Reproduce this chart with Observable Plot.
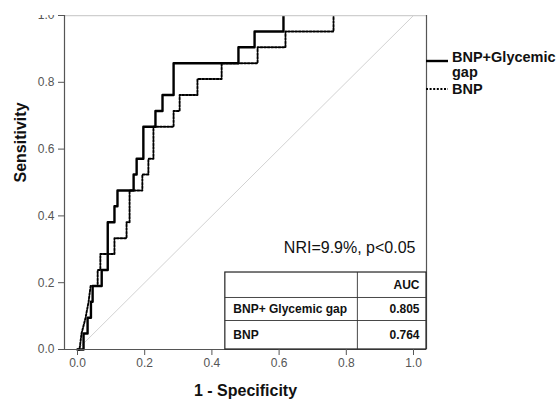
<!DOCTYPE html>
<html><head><meta charset="utf-8">
<script src="https://cdn.jsdelivr.net/npm/d3@7"></script>
<script src="https://cdn.jsdelivr.net/npm/@observablehq/plot@0.6"></script>
<style>
body{margin:0;background:#fff;}
#wrap{position:relative;width:556px;height:400px;overflow:hidden;background:#fff;}
#chart{position:absolute;left:0;top:15px;}
#chart svg{overflow:hidden;display:block;}
#legend{position:absolute;left:426px;top:0;}
#legend text{font-family:"Liberation Sans",Arial,sans-serif;font-weight:bold;font-size:14.5px;fill:#111;}
</style></head><body>
<div id="wrap"><div id="chart"></div><div id="legend"></div></div>
<script>
// ROC curve vertices (1 - specificity, sensitivity)
const comboFpr = [0, 0.018, 0.018, 0.030, 0.030, 0.040, 0.040, 0.045, 0.045, 0.072, 0.072, 0.090, 0.090, 0.110, 0.110, 0.119, 0.119, 0.167, 0.167, 0.176, 0.176, 0.196, 0.196, 0.232, 0.232, 0.253, 0.253, 0.286, 0.286, 0.479, 0.479, 0.527, 0.527, 0.613, 0.613];
const comboTpr = [0, 0, 0.048, 0.048, 0.095, 0.095, 0.143, 0.143, 0.190, 0.190, 0.238, 0.238, 0.381, 0.381, 0.429, 0.429, 0.476, 0.476, 0.524, 0.524, 0.571, 0.571, 0.667, 0.667, 0.714, 0.714, 0.762, 0.762, 0.857, 0.857, 0.905, 0.905, 0.952, 0.952, 1.0];
const bnpFpr = [0, 0.006, 0.012, 0.024, 0.033, 0.039, 0.060, 0.060, 0.068, 0.068, 0.110, 0.110, 0.146, 0.146, 0.155, 0.155, 0.193, 0.193, 0.211, 0.211, 0.226, 0.226, 0.286, 0.286, 0.304, 0.304, 0.357, 0.357, 0.429, 0.429, 0.536, 0.536, 0.619, 0.619, 0.762, 0.762];
const bnpTpr = [0, 0, 0.048, 0.095, 0.143, 0.190, 0.190, 0.238, 0.238, 0.286, 0.286, 0.333, 0.333, 0.381, 0.381, 0.476, 0.476, 0.524, 0.524, 0.571, 0.571, 0.667, 0.667, 0.714, 0.714, 0.762, 0.762, 0.810, 0.810, 0.857, 0.857, 0.905, 0.905, 0.952, 0.952, 1.0];
const seriesNames = ["BNP+Glycemic gap", "BNP"];
const tableHeader = "AUC";
const tableLabels = ["BNP+ Glycemic gap", "BNP"];
const aucValues = [0.805, 0.764];
const xTicks = [0, 0.2, 0.4, 0.6, 0.8, 1.0];
const yTicks = [0, 0.2, 0.4, 0.6, 0.8, 1.0];
const annotation = "NRI=9.9%, p<0.05";
const xTitle = "1 - Specificity";
const yTitle = "Sensitivity";

const combo = comboFpr.map((x, i) => ({x, y: comboTpr[i]}));
const bnp = bnpFpr.map((x, i) => ({x, y: bnpTpr[i]}));

const xMin = -0.0387, xMax = 1.0387;
// table layout (in chart units)
const tX1 = 0.44, tXdiv = 0.833, tYtop = 0.2305, tRow1 = 0.1557, tRow2 = 0.0868;
const rowCenters = [(tRow1 + tYtop) / 2, (tRow2 + tRow1) / 2, tRow2 / 2];
const tableRows = [{label: "", value: tableHeader}].concat(
  tableLabels.map((label, i) => ({label, value: d3.format(".3f")(aucValues[i])})));

const font = "'Liberation Sans', Arial, sans-serif";
const chart = Plot.plot({
  width: 556, height: 385,
  marginLeft: 64, marginRight: 130, marginTop: 0, marginBottom: 51,
  style: {fontFamily: font, overflow: "hidden", background: "white"},
  x: {domain: [xMin, xMax]},
  y: {domain: [0, 1]},
  marks: [
    Plot.line([{x: 0, y: 0}, {x: 1, y: 1}], {x: "x", y: "y", stroke: "#d2d2d2", strokeWidth: 1}),
    Plot.line(bnp, {x: "x", y: "y", stroke: "#000", strokeWidth: 1.9, strokeDasharray: "2,1.6"}),
    Plot.line(combo, {x: "x", y: "y", stroke: "#000", strokeWidth: 2.4}),
    // frame
    Plot.ruleY([1], {stroke: "#cfcfcf", strokeWidth: 1.5}),
    Plot.ruleX([xMin, xMax], {stroke: "#555", strokeWidth: 1.2}),
    Plot.ruleY([0], {stroke: "#555", strokeWidth: 1.2}),
    // AUC table
    Plot.rect([tableRows], {x1: () => tX1, x2: () => xMax, y1: () => 0, y2: () => tYtop, fill: "white", stroke: "#222", strokeWidth: 1.2}),
    Plot.ruleY([tRow1, tRow2], {x1: tX1, x2: xMax, stroke: "#333", strokeWidth: 0.9}),
    Plot.ruleX([tXdiv], {y1: 0, y2: tYtop, stroke: "#333", strokeWidth: 0.9}),
    Plot.text(tableRows, {x: () => tX1, dx: 8, y: (d, i) => rowCenters[i], text: "label", textAnchor: "start", fontSize: 12, fontWeight: "bold", fill: "#111"}),
    Plot.text(tableRows, {x: () => xMax, dx: -7, y: (d, i) => rowCenters[i], text: "value", textAnchor: "end", fontSize: 12, fontWeight: "bold", fill: "#111"}),
    // annotation
    Plot.text([annotation], {x: () => xMax, dx: -11, y: () => 0.305, text: d => d, textAnchor: "end", fontSize: 16, fill: "#111"}),
    // axes
    Plot.axisX(xTicks, {tickFormat: d3.format(".1f"), tickSize: 6, tickPadding: 3, fontSize: 12, color: "#555", label: null}),
    Plot.axisY(yTicks, {tickFormat: d3.format(".1f"), tickSize: 6, tickPadding: 4, fontSize: 12, color: "#555", label: null}),
    Plot.text([xTitle], {frameAnchor: "bottom", dy: 41, text: d => d, fontSize: 16, fontWeight: "bold", fill: "#111", lineAnchor: "middle"}),
    Plot.text([yTitle], {frameAnchor: "left", dx: -44, rotate: -90, text: d => d, fontSize: 16, fontWeight: "bold", fill: "#111", lineAnchor: "middle"})
  ]
});
document.getElementById("chart").appendChild(chart);

// legend
const leg = d3.select("#legend").append("svg").attr("width", 130).attr("height", 110);
leg.append("line").attr("x1", 0).attr("x2", 22).attr("y1", 61).attr("y2", 61).attr("stroke", "#000").attr("stroke-width", 2.4);
leg.append("text").attr("x", 26).attr("y", 57).attr("dy", "0.35em").text("BNP+Glycemic");
leg.append("text").attr("x", 26).attr("y", 72).attr("dy", "0.35em").text("gap");
leg.append("line").attr("x1", 0).attr("x2", 22).attr("y1", 89).attr("y2", 89).attr("stroke", "#000").attr("stroke-width", 1.8).attr("stroke-dasharray", "2,1.6");
leg.append("text").attr("x", 26).attr("y", 89).attr("dy", "0.35em").text(seriesNames[1]);
</script>
</body></html>
